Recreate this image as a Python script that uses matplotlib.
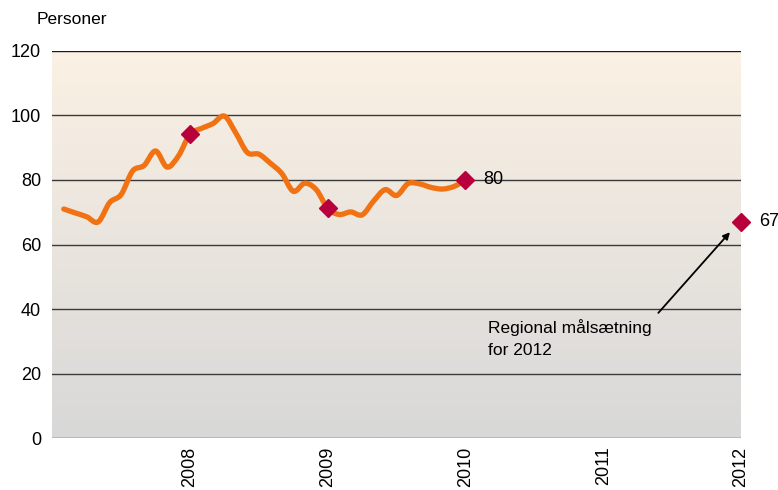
import numpy as np
import matplotlib
matplotlib.use("Agg")
import matplotlib.pyplot as plt
from matplotlib.path import Path
from matplotlib.patches import PathPatch

plt.rcParams['font.family'] = ['Liberation Sans', 'DejaVu Sans']
plt.rcParams['font.size'] = 12.5

# monthly values, Feb 2007 - Jan 2010
months = np.arange(1, 37)
persons = [71.0, 69.8, 68.6, 67.0, 73.0, 75.5, 82.8, 84.5, 89.0, 84.0, 87.5,
           94.2, 96.0, 97.5, 99.8, 94.5, 88.5, 88.0, 85.2, 82.0, 76.5, 79.0,
           77.0, 71.2, 69.3, 70.1, 69.2, 73.5, 77.0, 75.2, 78.9, 78.8, 77.7,
           77.2, 78.0, 80.0]
marker_years = [2008, 2009, 2010, 2012]
marker_values = [94.2, 71.2, 80.0, 67.0]
year_ticks = [2008, 2009, 2010, 2011, 2012]

years = 2007 + months / 12.0

fig = plt.figure(figsize=(7.78, 4.90), dpi=100)
ax = fig.add_axes([0.0672, 0.106, 0.8852, 0.790])
ax.set_xlim(2007, 2012)
ax.set_ylim(0, 120)

# background gradient
grad = np.linspace(0, 1, 256).reshape(-1, 1)
top = np.array([251, 241, 228]) / 255
bottom = np.array([216, 216, 216]) / 255
img = top * (1 - grad[..., None]) + bottom * grad[..., None]
ax.imshow(img, extent=[2007, 2012, 0, 120], aspect='auto', zorder=0,
          origin='upper')

for v in range(0, 121, 20):
    ax.axhline(v, color='#1a1a1a' if v == 120 else '#3a3a3a', lw=1.0, zorder=1)

# smoothed line (Catmull-Rom as cubic Bezier)
pts = np.column_stack([years, persons])
verts = [pts[0]]
codes = [Path.MOVETO]
for i in range(len(pts) - 1):
    p0 = pts[max(i - 1, 0)]
    p1 = pts[i]
    p2 = pts[i + 1]
    p3 = pts[min(i + 2, len(pts) - 1)]
    c1 = p1 + (p2 - p0) / 6.0
    c2 = p2 - (p3 - p1) / 6.0
    verts += [c1, c2, p2]
    codes += [Path.CURVE4] * 3
ax.add_patch(PathPatch(Path(verts, codes), facecolor='none',
                       edgecolor='#f07212', lw=3.8, capstyle='round',
                       joinstyle='round', zorder=3))

ax.plot(marker_years, marker_values, linestyle='none', marker='D',
        markersize=9, color='#b8003c', zorder=4, clip_on=False)

ax.text(2010 + 0.13, 80, '80', va='center', ha='left', fontsize=13)
ax.text(2012 + 0.13, 67, '67', va='center', ha='left', fontsize=13)

ax.annotate('', xy=(2011.92, 63.8), xytext=(2011.40, 38.8),
            arrowprops=dict(arrowstyle='-|>', color='black', lw=1.3,
                            mutation_scale=10, shrinkA=0, shrinkB=0))
ax.text(2010.16, 37.0, 'Regional målsætning\nfor 2012', ha='left', va='top',
        fontsize=12.5, linespacing=1.65)

ax.set_yticks(range(0, 121, 20))
ax.set_xticks(year_ticks)
ax.set_xticklabels([str(y) for y in year_ticks], rotation=90)
ax.tick_params(length=0, labelsize=13)
ax.tick_params(axis='y', pad=8)
ax.tick_params(axis='x', pad=6)
for s in ax.spines.values():
    s.set_visible(False)

fig.text(0.047, 0.96, 'Personer', ha='left', va='center', fontsize=12.5)

fig.savefig('out.png', dpi=100)
